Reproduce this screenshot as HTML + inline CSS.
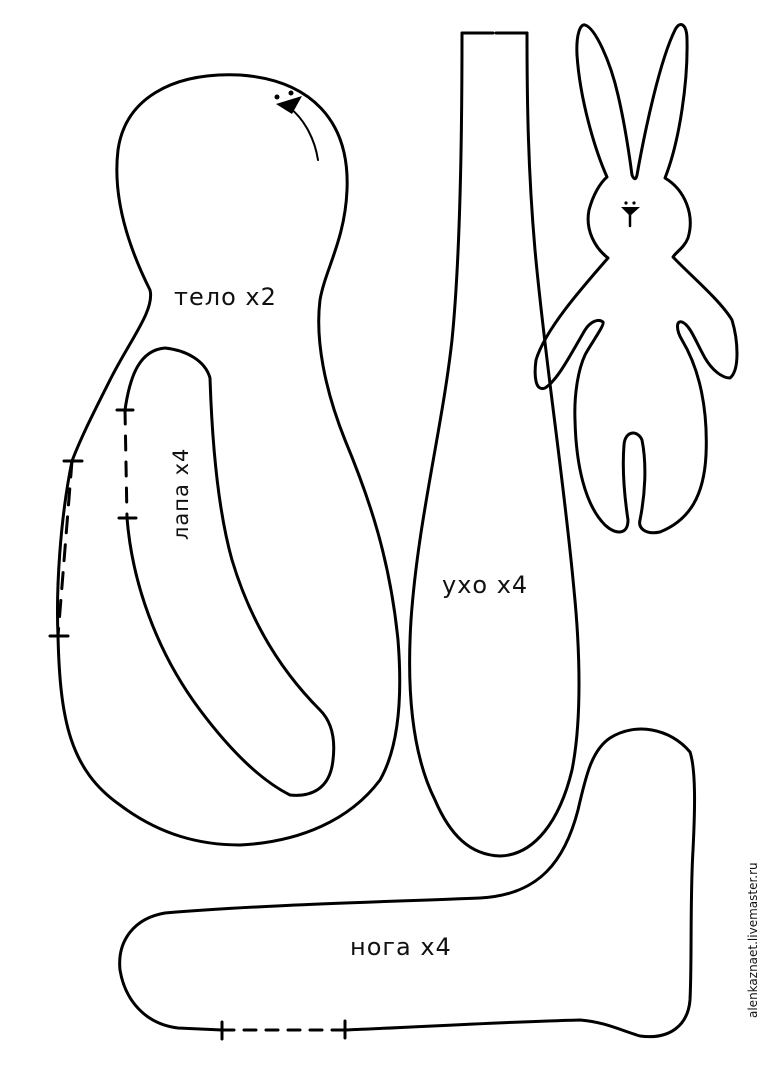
<!DOCTYPE html>
<html><head><meta charset="utf-8"><style>
html,body{margin:0;padding:0;background:#fff;}
svg{display:block;}
text{font-family:"DejaVu Sans","Liberation Sans",sans-serif;fill:#111;}
</style></head><body>
<svg width="760" height="1075" viewBox="0 0 760 1075" xmlns="http://www.w3.org/2000/svg">
<g fill="none" stroke="#000" stroke-width="3" stroke-linejoin="round" stroke-linecap="round">
<!-- body -->
<path d="M72,461 C60,520 56,590 58,636 C60,720 70,770 120,805 C160,835 200,845 240,845 C300,842 350,820 380,780 C400,745 402,690 398,640 C390,560 370,500 345,440 C325,390 315,340 320,300 C325,270 345,240 347,190 C350,120 310,80 240,75 C170,72 125,100 118,150 C112,200 130,250 150,290 C155,310 130,340 110,380 C95,410 82,435 72,461"/>
<path d="M72,461 L58,636" stroke-dasharray="16,12"/>
<path d="M64,461 L82,461 M50,636 L68,636"/>
<!-- arm -->
<path d="M127,518 C132,580 155,650 200,710 C230,750 260,780 290,795 C310,797 330,790 333,760 C336,735 330,720 320,710 C280,670 250,620 232,560 C218,510 212,440 210,378 C205,360 185,350 165,348 C140,350 130,375 125,410"/>
<path d="M125,410 L127,518" stroke-dasharray="14,12"/>
<path d="M117,410 L133,410 M119,518 L136,518"/>
<!-- face -->
<path d="M290,108 C305,120 315,140 318,160" stroke-width="2"/>
</g>
<circle cx="277" cy="97" r="2.5" fill="#000"/>
<circle cx="291" cy="93" r="2.5" fill="#000"/>
<polygon points="276,104 302,96 292,114" fill="#000"/>
<g fill="none" stroke="#000" stroke-width="3" stroke-linejoin="round" stroke-linecap="round">
<!-- ear -->
<path d="M462,33 C462,150 460,260 452,340 C442,430 418,520 411,620 C406,700 415,760 435,800 C450,835 470,855 500,856 C535,855 560,820 572,770 C582,720 580,650 574,590 C564,480 545,360 535,250 C528,170 527,100 527,33"/>
<path d="M462,33 L490,33 M500,33 L527,33"/>
<path d="M490,33 L500,33" stroke-dasharray="3,3"/>
<!-- foot -->
<path d="M222,1030 L178,1028 C145,1024 125,1000 120,970 C117,940 135,918 165,913 C260,905 380,902 480,898 C540,895 565,860 578,810 C586,775 592,750 610,738 C635,722 670,728 690,752 C696,770 695,810 693,850 C690,900 692,960 690,1000 C688,1025 670,1040 640,1036 C620,1030 605,1022 580,1020 C500,1022 420,1027 345,1030"/>
<path d="M222,1030 L345,1030" stroke-dasharray="12,10"/>
<path d="M222,1022 L222,1039 M345,1021 L345,1038"/>
<!-- bunny -->
<path d="M607,177 C595,150 580,100 577,55 C576,35 580,24 585,25 C595,28 610,60 618,95 C625,125 630,160 632,175 C634,180 636,180 637,175 C645,130 660,60 675,30 C680,20 687,24 687,40 C688,80 680,140 665,178 C685,190 695,215 688,238 C684,248 676,252 673,257 C690,275 720,300 732,320 C738,340 740,370 730,378 C722,378 712,370 705,358 C695,340 690,325 682,322 C676,320 676,330 682,340 C700,370 708,410 706,455 C704,495 690,520 660,532 C645,535 638,528 640,520 C645,495 647,465 642,440 C638,430 625,430 624,445 C622,470 625,500 628,520 C628,535 616,535 605,525 C585,505 576,465 575,420 C574,395 578,370 585,355 C590,345 605,325 603,322 C598,318 590,322 585,330 C572,352 558,380 545,388 C535,392 534,375 536,360 C545,330 580,290 608,258 C595,248 585,230 589,210 C593,195 600,183 607,177 Z"/>
<path d="M630,214 L630,226" stroke-width="2.5"/>
</g>
<circle cx="626" cy="203" r="1.6" fill="#000"/>
<circle cx="634" cy="203" r="1.6" fill="#000"/>
<polygon points="621,207 640,207 630,216" fill="#000"/>
<!-- labels -->
<text x="174" y="305" font-size="24" letter-spacing="1">тело x2</text>
<text x="442" y="593" font-size="24" letter-spacing="1">ухо x4</text>
<text x="350" y="955" font-size="24" letter-spacing="1">нога x4</text>
<text transform="translate(188,540) rotate(-90)" font-size="21" letter-spacing="1">лапа x4</text>
<text transform="translate(757,1018) rotate(-90)" font-size="12">alenkaznaet.livemaster.ru</text>
</svg>
</body></html>
